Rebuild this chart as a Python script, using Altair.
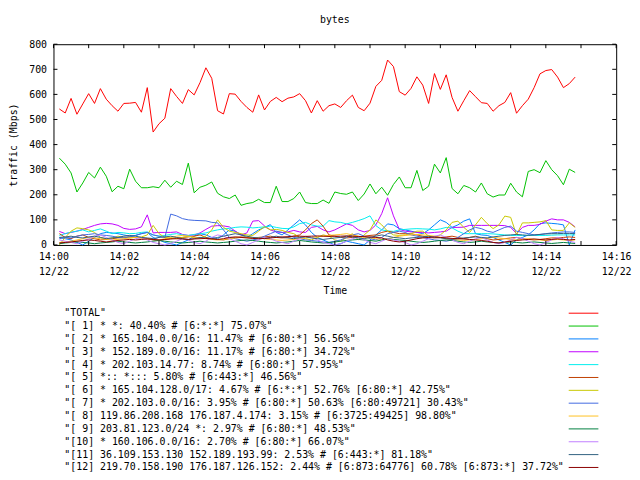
import altair as alt
import pandas as pd

# ---------------- data ----------------
chart_title = "bytes"
x_title = "Time"
y_title = "traffic (Mbps)"
day = "2008-12-22"
first_sample = "14:00:10"
sample_step = "10s"
x_domain_minutes = [0, 16]
x_label_minutes = [0, 2, 4, 6, 8, 10, 12, 14, 16]
x_tick_minutes = list(range(0, 17))
y_ticks = [0, 100, 200, 300, 400, 500, 600, 700, 800]

labels = [
    '"TOTAL"',
    '"[ 1] * *: 40.40% # [6:*:*] 75.07%"',
    '"[ 2] * 165.104.0.0/16: 11.47% # [6:80:*] 56.56%"',
    '"[ 3] * 152.189.0.0/16: 11.17% # [6:80:*] 34.72%"',
    '"[ 4] * 202.103.14.77: 8.74% # [6:80:*] 57.95%"',
    '"[ 5] *:: *::: 5.80% # [6:443:*] 46.56%"',
    '"[ 6] * 165.104.128.0/17: 4.67% # [6:*:*] 52.76% [6:80:*] 42.75%"',
    '"[ 7] * 202.103.0.0/16: 3.95% # [6:80:*] 50.63% [6:80:49721] 30.43%"',
    '"[ 8] 119.86.208.168 176.187.4.174: 3.15% # [6:3725:49425] 98.80%"',
    '"[ 9] 203.81.123.0/24 *: 2.97% # [6:80:*] 48.53%"',
    '"[10] * 160.106.0.0/16: 2.70% # [6:80:*] 66.07%"',
    '"[11] 36.109.153.130 152.189.193.99: 2.53% # [6:443:*] 81.18%"',
    '"[12] 219.70.158.190 176.187.126.152: 2.44% # [6:873:64776] 60.78% [6:873:*] 37.72%"',
]
colors = ["#ff0000", "#00c000", "#0080ff", "#c000ff", "#00eeee", "#c04000",
          "#c8c800", "#4169e1", "#ffc020", "#008040", "#c080ff", "#306080", "#8b0000"]

total = [542, 526, 584, 521, 562, 603, 564, 623, 581, 555,
         533, 564, 565, 568, 529, 627, 450, 483, 505, 623,
         592, 564, 619, 598, 647, 706, 664, 535, 522, 603,
         601, 572, 548, 529, 598, 538, 572, 588, 571, 585,
         590, 603, 575, 526, 575, 533, 555, 562, 548, 575,
         597, 548, 535, 565, 632, 656, 737, 711, 611, 597,
         624, 670, 637, 564, 683, 620, 678, 588, 533, 575,
         615, 591, 567, 564, 533, 555, 568, 607, 525, 555,
         581, 627, 682, 695, 699, 669, 627, 643, 669]
s1 = [346, 322, 287, 211, 247, 289, 267, 310, 274, 212,
      234, 224, 302, 254, 228, 228, 232, 228, 258, 230,
      254, 241, 326, 208, 230, 238, 251, 206, 192, 185,
      199, 158, 165, 169, 182, 169, 169, 234, 173, 173,
      185, 211, 169, 165, 165, 179, 166, 211, 205, 202,
      211, 177, 203, 243, 204, 230, 198, 241, 271, 228,
      228, 297, 217, 234, 322, 287, 348, 225, 204, 237,
      228, 211, 247, 204, 191, 199, 199, 246, 211, 192,
      293, 300, 288, 336, 300, 276, 240, 302, 289]
s2 = [30, 25, 20, 10, 0, 15, 30, 45, 50, 48,
      45, 40, 35, 38, 45, 50, 30, 20, 10, 5,
      0, 10, 20, 35, 45, 40, 30, 25, 40, 60,
      55, 40, 30, 45, 60, 70, 81, 50, 40, 60,
      80, 100, 80, 50, 30, 20, 10, 0, 5, 15,
      10, 5, 0, 20, 40, 60, 84, 80, 65, 60,
      55, 50, 45, 60, 80, 100, 90, 70, 80, 95,
      104, 45, 40, 38, 30, 20, 10, 0, 20, 30,
      40, 60, 85, 88, 86, 84, 80, 0, 60]
s3 = [54, 45, 50, 55, 62, 70, 78, 84, 86, 84,
      78, 66, 62, 64, 72, 120, 48, 50, 50, 50,
      52, 42, 38, 40, 48, 62, 75, 77, 76, 72,
      55, 40, 48, 95, 97, 76, 60, 52, 50, 52,
      58, 52, 50, 70, 74, 60, 52, 60, 72, 84,
      78, 60, 52, 58, 80, 125, 188, 116, 62, 55,
      52, 50, 50, 48, 50, 52, 55, 70, 70, 71,
      78, 78, 78, 78, 78, 78, 77, 70, 45, 70,
      78, 78, 82, 95, 104, 100, 100, 90, 72]
s4 = [38, 45, 51, 55, 60, 52, 58, 64, 55, 45,
      50, 48, 45, 46, 50, 52, 40, 35, 38, 42,
      45, 40, 38, 42, 45, 48, 55, 60, 64, 66,
      70, 72, 71, 68, 70, 72, 75, 70, 66, 65,
      72, 85, 90, 80, 75, 75, 97, 92, 90, 84,
      90, 97, 105, 116, 77, 60, 56, 54, 60, 62,
      64, 65, 64, 63, 60, 64, 70, 68, 55, 45,
      45, 45, 45, 45, 44, 42, 40, 38, 38, 38,
      38, 38, 38, 38, 39, 40, 40, 40, 40]
s5 = [45, 30, 25, 35, 40, 30, 25, 20, 22, 25,
      28, 30, 32, 30, 28, 25, 20, 18, 22, 25,
      28, 30, 32, 35, 40, 30, 25, 22, 20, 25,
      30, 32, 30, 28, 30, 32, 35, 30, 28, 30,
      35, 40, 60, 85, 100, 75, 40, 35, 30, 28,
      30, 32, 35, 38, 40, 50, 55, 50, 45, 45,
      45, 40, 35, 30, 28, 30, 32, 35, 30, 25,
      30, 35, 28, 25, 20, 22, 25, 28, 30, 25,
      22, 20, 22, 25, 28, 28, 30, 32, 30]
s6 = [0, 30, 55, 68, 65, 60, 50, 30, 25, 28,
      35, 30, 28, 30, 32, 40, 78, 45, 30, 28,
      25, 30, 35, 30, 28, 35, 60, 100, 70, 55,
      50, 45, 40, 38, 55, 73, 60, 62, 58, 50,
      45, 30, 25, 20, 30, 40, 35, 20, 15, 30,
      45, 20, 40, 60, 100, 80, 55, 40, 38, 40,
      45, 55, 55, 35, 30, 40, 60, 90, 95, 70,
      50, 80, 110, 85, 65, 80, 115, 110, 40, 88,
      88, 90, 92, 97, 60, 58, 58, 88, 70]
s7 = [25, 30, 28, 35, 40, 42, 45, 40, 38, 35,
      30, 28, 32, 38, 45, 50, 40, 35, 30, 123,
      116, 105, 100, 98, 97, 96, 90, 88, 60, 30,
      25, 20, 15, 20, 25, 35, 45, 55, 50, 40,
      30, 25, 20, 18, 15, 12, 10, 15, 20, 30,
      40, 45, 35, 25, 20, 30, 45, 50, 55, 50,
      40, 35, 30, 25, 20, 18, 15, 20, 30, 45,
      60, 70, 65, 55, 50, 60, 70, 75, 55, 50,
      45, 40, 42, 45, 48, 50, 52, 52, 50]
s8 = [10, 12, 15, 20, 25, 30, 28, 25, 22, 20,
      22, 25, 28, 30, 28, 25, 22, 20, 25, 30,
      35, 38, 35, 30, 28, 25, 22, 20, 22, 25,
      28, 30, 32, 30, 28, 25, 22, 20, 18, 20,
      22, 25, 28, 30, 32, 35, 38, 40, 42, 45,
      40, 35, 30, 28, 25, 22, 25, 30, 35, 38,
      40, 42, 40, 38, 35, 30, 25, 22, 20, 18,
      20, 22, 25, 28, 30, 28, 25, 22, 20, 22,
      25, 22, 20, 18, 20, 22, 20, 18, 20]
s9 = [5, 8, 10, 12, 10, 8, 5, 8, 10, 12,
      15, 12, 10, 8, 10, 12, 15, 18, 15, 12,
      10, 8, 10, 12, 15, 12, 10, 8, 10, 12,
      15, 18, 20, 18, 15, 12, 10, 8, 10, 12,
      15, 18, 15, 12, 10, 8, 10, 12, 15, 18,
      20, 22, 20, 18, 15, 20, 25, 22, 20, 18,
      15, 12, 10, 12, 15, 18, 20, 18, 15, 12,
      10, 12, 15, 12, 10, 8, 10, 12, 10, 8,
      10, 12, 10, 8, 6, 8, 10, 8, 6]
s10 = [20, 15, 10, 5, 15, 25, 35, 40, 30, 20,
       10, 5, 15, 25, 30, 20, 10, 5, 0, 5,
       15, 25, 20, 10, 5, 15, 30, 40, 35, 25,
       15, 5, 0, 10, 20, 30, 25, 15, 10, 5,
       15, 25, 35, 30, 20, 10, 5, 0, 5, 15,
       25, 30, 20, 10, 5, 15, 25, 20, 15, 10,
       0, 5, 15, 25, 35, 40, 30, 20, 10, 5,
       15, 25, 30, 20, 10, 5, 10, 20, 30, 25,
       15, 5, 0, 10, 20, 30, 25, 15, 10]
s11 = [30, 32, 35, 30, 28, 32, 35, 30, 25, 28,
       30, 35, 38, 35, 30, 28, 25, 30, 32, 35,
       30, 25, 22, 25, 30, 28, 25, 30, 35, 40,
       45, 40, 35, 30, 28, 25, 30, 35, 30, 28,
       25, 30, 32, 28, 25, 22, 25, 28, 30, 35,
       32, 28, 25, 30, 35, 40, 35, 30, 28, 25,
       28, 30, 32, 35, 30, 28, 25, 22, 25, 28,
       30, 32, 30, 28, 32, 35, 38, 40, 42, 40,
       38, 40, 42, 44, 45, 45, 46, 46, 45]
s12 = [8, 10, 12, 15, 18, 20, 18, 15, 12, 15,
       18, 20, 22, 20, 22, 24, 22, 20, 22, 24,
       25, 24, 22, 24, 25, 26, 24, 22, 25, 30,
       32, 30, 28, 26, 25, 26, 28, 30, 32, 33,
       35, 35, 34, 35, 36, 35, 34, 35, 35, 36,
       35, 34, 33, 32, 30, 28, 20, 15, 12, 15,
       20, 25, 28, 30, 32, 30, 28, 26, 25, 24,
       22, 20, 18, 15, 10, 8, 12, 15, 18, 20,
       22, 24, 22, 20, 22, 24, 22, 20, 22]

series_values = [total, s1, s2, s3, s4, s5, s6, s7, s8, s9, s10, s11, s12]

# ---------------- tables ----------------
rows = []
for lab, vals in zip(labels, series_values):
    times = pd.date_range(f"{day} {first_sample}", periods=len(vals), freq=sample_step)
    for t, v in zip(times, vals):
        rows.append({"time": t, "value": v, "series": lab})
df = pd.DataFrame(rows)

base_time = pd.Timestamp(f"{day} 14:00:00")
df_xt = pd.DataFrame({"time": [base_time + pd.Timedelta(minutes=m) for m in x_tick_minutes]})
df_yt = pd.DataFrame({"value": y_ticks})
df_leg = pd.DataFrame({"label": labels, "series": labels})


def dt(minute):
    return alt.DateTime(year=2008, month=12, date=22, hours=14, minutes=minute)


W, H = 569, 203
TICK = 4
MONO = "DejaVu Sans Mono"

x_enc = alt.X(
    "time:T",
    title=x_title,
    scale=alt.Scale(domain=[dt(x_domain_minutes[0]), dt(x_domain_minutes[1])]),
    axis=alt.Axis(
        values=[dt(m) for m in x_label_minutes],
        labelExpr="[timeFormat(datum.value, '%H:%M'), timeFormat(datum.value, '%m/%d')]",
        ticks=False, domain=False, grid=False,
        labelFlush=False, labelOverlap=False,
        labelPadding=7, labelLineHeight=15, titlePadding=9,
    ),
)
y_enc = alt.Y(
    "value:Q",
    title=y_title,
    scale=alt.Scale(domain=[0, 800]),
    axis=alt.Axis(
        values=y_ticks, ticks=False, domain=False, grid=False,
        labelFlush=False, labelPadding=7, titlePadding=10,
    ),
)
color_scale = alt.Scale(domain=labels, range=colors)

lines = alt.Chart(df).mark_line(strokeWidth=1).encode(
    x=x_enc, y=y_enc,
    color=alt.Color("series:N", scale=color_scale, legend=None),
)
xt_top = alt.Chart(df_xt).mark_rule(color="black", strokeWidth=1).encode(
    x=x_enc, y=alt.value(0), y2=alt.value(TICK))
xt_bot = alt.Chart(df_xt).mark_rule(color="black", strokeWidth=1).encode(
    x=x_enc, y=alt.value(H - TICK), y2=alt.value(H))
yt_left = alt.Chart(df_yt).mark_rule(color="black", strokeWidth=1).encode(
    y=y_enc, x=alt.value(0), x2=alt.value(TICK))
yt_right = alt.Chart(df_yt).mark_rule(color="black", strokeWidth=1).encode(
    y=y_enc, x=alt.value(W - TICK), x2=alt.value(W))

main = alt.layer(lines, xt_top, xt_bot, yt_left, yt_right)

leg_y = alt.Y("label:N", sort=labels,
              scale=alt.Scale(type="point", domain=labels, range=[272, 428], padding=0),
              axis=None)
leg_text = alt.Chart(df_leg).mark_text(
    align="left", baseline="middle", font=MONO, fontSize=10, color="black"
).encode(y=leg_y, x=alt.value(11), text="label:N")
leg_rule = alt.Chart(df_leg).mark_rule(strokeWidth=1).encode(
    y=leg_y, x=alt.value(521), x2=alt.value(551),
    color=alt.Color("series:N", scale=color_scale, legend=None),
)
legend = alt.layer(leg_text, leg_rule)

chart = (
    alt.layer(main, legend)
    .resolve_scale(y="independent")
    .properties(
        width=W, height=H,
        title=alt.Title(chart_title, anchor="middle", frame="group", offset=14),
        padding={"left": 0, "top": 5, "right": 0, "bottom": 0},
    )
    .configure_view(stroke="black", strokeWidth=1)
    .configure_axis(labelFont=MONO, titleFont=MONO, labelFontSize=10, titleFontSize=10,
                    titleFontWeight="normal", labelColor="black", titleColor="black")
    .configure_title(font=MONO, fontSize=10, fontWeight="normal", color="black")
)

chart.save("out.html", embed_options={"renderer": "svg", "actions": False})
